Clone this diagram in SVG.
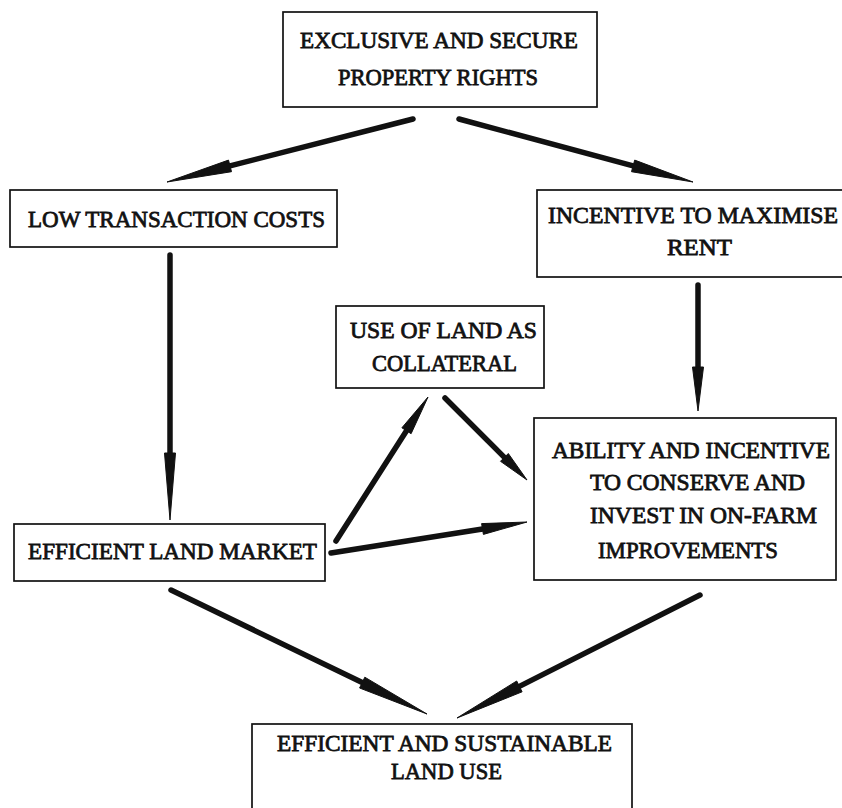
<svg xmlns="http://www.w3.org/2000/svg" width="842" height="808" viewBox="0 0 842 808">
<style>
.box{fill:none;stroke:#111;stroke-width:1.7}
.t{font-family:"Liberation Serif","Times New Roman",serif;font-size:24px;fill:#111;stroke:#111;stroke-width:0.8}
.shaft{stroke:#111;stroke-width:5.5;stroke-linecap:round;fill:none}
.head{fill:#111;stroke:#111;stroke-width:1;stroke-linejoin:miter}
</style>
<rect width="842" height="808" fill="#fff"/>
<g id="n_rights">
<rect class="box" x="283" y="12" width="314" height="95"/>
<text class="t" x="300" y="48" textLength="278" lengthAdjust="spacingAndGlyphs">EXCLUSIVE AND SECURE</text>
<text class="t" x="338" y="85" textLength="200" lengthAdjust="spacingAndGlyphs">PROPERTY RIGHTS</text>
</g>
<g id="n_lowcost">
<rect class="box" x="10" y="190" width="327" height="57"/>
<text class="t" x="28" y="227" textLength="297" lengthAdjust="spacingAndGlyphs">LOW TRANSACTION COSTS</text>
</g>
<g id="n_incentive">
<rect class="box" x="537" y="190" width="310" height="87"/>
<text class="t" x="548" y="223" textLength="290" lengthAdjust="spacingAndGlyphs">INCENTIVE TO MAXIMISE</text>
<text class="t" x="667" y="255" textLength="65" lengthAdjust="spacingAndGlyphs">RENT</text>
</g>
<g id="n_collateral">
<rect class="box" x="336" y="306" width="208" height="82"/>
<text class="t" x="350" y="338" textLength="187" lengthAdjust="spacingAndGlyphs">USE OF LAND AS</text>
<text class="t" x="372" y="371" textLength="145" lengthAdjust="spacingAndGlyphs">COLLATERAL</text>
</g>
<g id="n_ability">
<rect class="box" x="534" y="418" width="302" height="162"/>
<text class="t" x="552" y="458" textLength="278" lengthAdjust="spacingAndGlyphs">ABILITY AND INCENTIVE</text>
<text class="t" x="590" y="490" textLength="215" lengthAdjust="spacingAndGlyphs">TO CONSERVE AND</text>
<text class="t" x="590" y="523" textLength="227" lengthAdjust="spacingAndGlyphs">INVEST IN ON-FARM</text>
<text class="t" x="598" y="558" textLength="180" lengthAdjust="spacingAndGlyphs">IMPROVEMENTS</text>
</g>
<g id="n_market">
<rect class="box" x="14" y="524" width="311" height="57"/>
<text class="t" x="28" y="559" textLength="289" lengthAdjust="spacingAndGlyphs">EFFICIENT LAND MARKET</text>
</g>
<g id="n_landuse">
<rect class="box" x="252" y="724" width="380" height="90"/>
<text class="t" x="277" y="751" textLength="335" lengthAdjust="spacingAndGlyphs">EFFICIENT AND SUSTAINABLE</text>
<text class="t" x="391" y="779" textLength="111" lengthAdjust="spacingAndGlyphs">LAND USE</text>
</g>
<g id="connectors">
<line class="shaft" x1="413" y1="119" x2="230" y2="165.9"/>
<polygon class="head" points="231.5,171.7 167,182 228.5,160.1"/>
<line class="shaft" x1="459" y1="119" x2="633.1" y2="165.9"/>
<polygon class="head" points="631.5,171.7 693,182 634.7,160.1"/>
<line class="shaft" x1="170" y1="255" x2="170" y2="453"/>
<polygon class="head" points="164.5,453 170,520 175.5,453"/>
<line class="shaft" x1="698" y1="285" x2="698" y2="367"/>
<polygon class="head" points="692.5,367 698,411 703.5,367"/>
<line class="shaft" x1="336" y1="541" x2="406.5" y2="430.8"/>
<polygon class="head" points="411.1,433.7 428,397 401.9,427.8"/>
<line class="shaft" x1="445" y1="398" x2="504.4" y2="457.4"/>
<polygon class="head" points="500.5,461.3 527,480 508.3,453.5"/>
<line class="shaft" x1="331" y1="553" x2="482.5" y2="529"/>
<polygon class="head" points="483.4,534.4 527,522 481.6,523.6"/>
<line class="shaft" x1="171" y1="590" x2="362.2" y2="682.6"/>
<polygon class="head" points="359.6,688 427,714 364.8,677.2"/>
<line class="shaft" x1="700" y1="595" x2="519.4" y2="686.4"/>
<polygon class="head" points="516.7,681 457,718 522.1,691.8"/>
</g>
</svg>
